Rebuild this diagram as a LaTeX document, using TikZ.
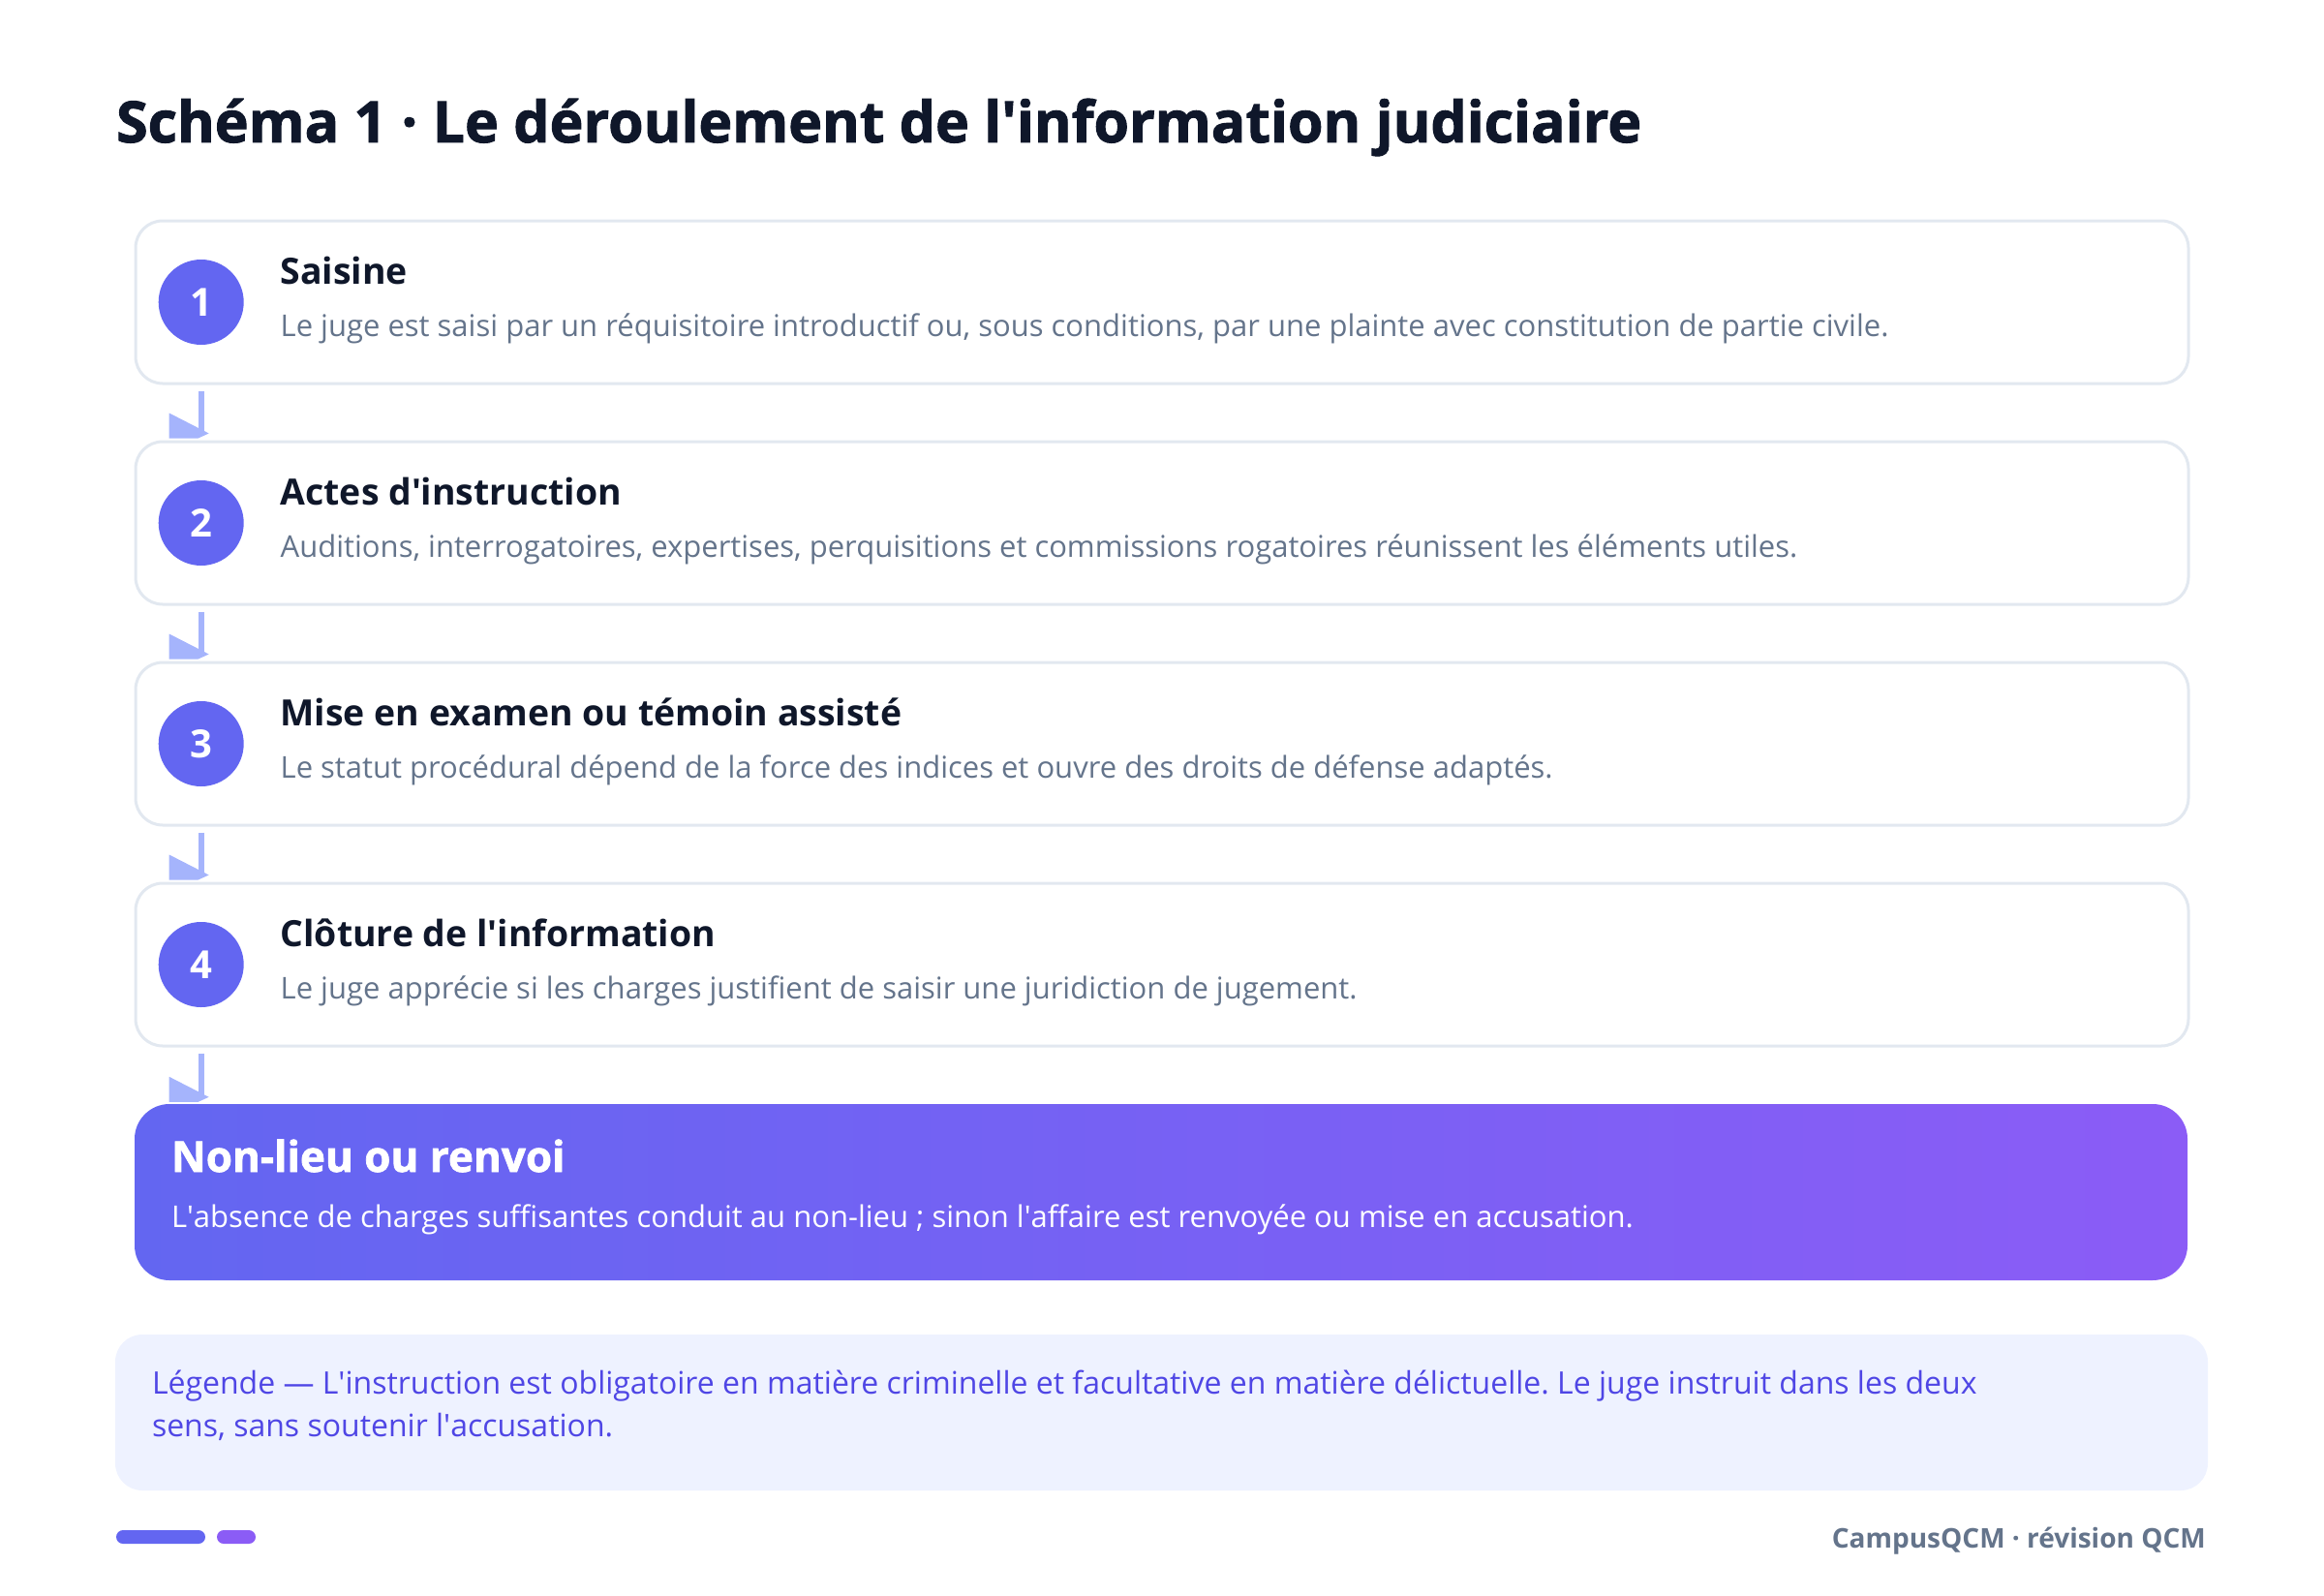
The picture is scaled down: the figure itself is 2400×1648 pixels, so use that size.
\documentclass[tikz,border=0pt]{standalone}
\usepackage{fontspec}
\setmainfont{Open Sans}
\newfontfamily\headfont{Open Sans}[BoldFeatures={FakeBold=1.6}]
\frenchspacing
\usetikzlibrary{positioning}

\definecolor{ink}{HTML}{0F172A}
\definecolor{muted}{HTML}{64748B}
\definecolor{indigo}{HTML}{6366F1}
\definecolor{violet}{HTML}{8B5CF6}
\definecolor{lavender}{HTML}{A5B4FC}
\definecolor{cardline}{HTML}{E2E8F0}
\definecolor{legendbg}{HTML}{EEF2FF}
\definecolor{legendink}{HTML}{4F46E5}

\tikzset{
  card/.style={draw=cardline, line width=3pt, fill=white, rounded corners=28pt,
    minimum width=2120pt, minimum height=168pt},
  numdot/.style={circle, fill=indigo, minimum size=88pt, inner sep=0pt,
    text=white, font=\bfseries\fontsize{40}{40}\selectfont},
  steptitle/.style={anchor=base west, inner sep=0pt, text=ink,
    font=\bfseries\fontsize{37.4}{38}\selectfont},
  stepdesc/.style={anchor=base west, inner sep=0pt, text=muted,
    font=\fontsize{31}{31}\selectfont},
  outcome/.style={rounded corners=36pt, left color=indigo, right color=violet,
    minimum width=2120pt, minimum height=182pt},
  flowline/.style={draw=lavender, line width=6pt},
  flowhead/.style={fill=lavender},
}

% connector between two stages, with its flat head
\newcommand{\stepedge}[2]{%
  \path (#1.south -| n1.center) coordinate (#1-out)
        (#2.north -| n1.center) coordinate (#2-in);
  \draw[flowline] ([yshift=-6pt]#1-out) -- ([yshift=7pt]#2-in);
  \fill[flowhead] ([xshift=-33pt, yshift=28pt]#2-in) -- ++(41pt,-21pt)
    -- ++(-11pt,-5pt) -- ++(-30pt,0pt) -- cycle;
}

\begin{document}
\begin{tikzpicture}[x=1pt, y=-1pt]
  \useasboundingbox (0,0) rectangle (2400,1648);

  \node[anchor=base west, inner sep=0pt, text=ink,
    font=\headfont\bfseries\fontsize{59}{59}\selectfont] (title) at (120,147)
    {Schéma 1 · Le déroulement de l\textquotesingle information judiciaire};

  % stages
  \node[card] (s1) at (1200,312) {};
  \node[card, below=57pt of s1] (s2) {};
  \node[card, below=57pt of s2] (s3) {};
  \node[card, below=57pt of s3] (s4) {};

  \node[numdot, right=25pt of s1.west] (n1) {1};
  \node[numdot, right=25pt of s2.west] (n2) {2};
  \node[numdot, right=25pt of s3.west] (n3) {3};
  \node[numdot, right=25pt of s4.west] (n4) {4};

  \node[steptitle] (t1) at ([xshift=151pt, yshift=19pt]s1.west) {Saisine};
  \node[stepdesc] (d1) at ([xshift=151pt, yshift=-35pt]s1.west)
    {Le juge est saisi par un réquisitoire introductif ou, sous conditions, par une plainte avec constitution de partie civile.};
  \node[steptitle] (t2) at ([xshift=151pt, yshift=19pt]s2.west) {Actes d\textquotesingle instruction};
  \node[stepdesc] (d2) at ([xshift=151pt, yshift=-35pt]s2.west)
    {Auditions, interrogatoires, expertises, perquisitions et commissions rogatoires réunissent les éléments utiles.};
  \node[steptitle] (t3) at ([xshift=151pt, yshift=19pt]s3.west) {Mise en examen ou témoin assisté};
  \node[stepdesc] (d3) at ([xshift=151pt, yshift=-35pt]s3.west)
    {Le statut procédural dépend de la force des indices et ouvre des droits de défense adaptés.};
  \node[steptitle] (t4) at ([xshift=151pt, yshift=19pt]s4.west) {Clôture de l\textquotesingle information};
  \node[stepdesc] (d4) at ([xshift=151pt, yshift=-35pt]s4.west)
    {Le juge apprécie si les charges justifient de saisir une juridiction de jugement.};

  % outcome
  \node[outcome] (out) at (1199,1231) {};
  \node[anchor=base west, inner sep=0pt, text=white,
    font=\headfont\bfseries\fontsize{44}{44}\selectfont] (outt) at ([xshift=38pt, yshift=21pt]out.west)
    {Non-lieu ou renvoi};
  \node[anchor=base west, inner sep=0pt, text=white,
    font=\fontsize{31}{31}\selectfont] (outd) at ([xshift=38pt, yshift=-36pt]out.west)
    {L\textquotesingle absence de charges suffisantes conduit au non-lieu ; sinon l\textquotesingle affaire est renvoyée ou mise en accusation.};

  \stepedge{s1}{s2}
  \stepedge{s2}{s3}
  \stepedge{s3}{s4}
  \stepedge{s4}{out}

  % legend
  \node[fill=legendbg, rounded corners=28pt, minimum width=2161pt, minimum height=161pt]
    (lgd) at (1199.5,1458.5) {};
  \node[anchor=base west, inner sep=0pt, align=left, text=legendink,
    font=\fontsize{32}{44}\selectfont] (lgdt) at ([xshift=38pt, yshift=-24.5pt]lgd.west)
    {Légende — L\textquotesingle instruction est obligatoire en matière criminelle et facultative en matière délictuelle. Le juge instruit dans les deux\\
     sens, sans soutenir l\textquotesingle accusation.};

  % footer
  \fill[indigo, rounded corners=7pt] (120,1580) rectangle (212,1594);
  \fill[violet, rounded corners=7pt] (224,1580) rectangle (264,1594);
  \node[anchor=base east, inner sep=0pt, text=muted,
    font=\bfseries\fontsize{28}{28}\selectfont] (brand) at (2278,1598)
    {CampusQCM · révision QCM};
\end{tikzpicture}
\end{document}
